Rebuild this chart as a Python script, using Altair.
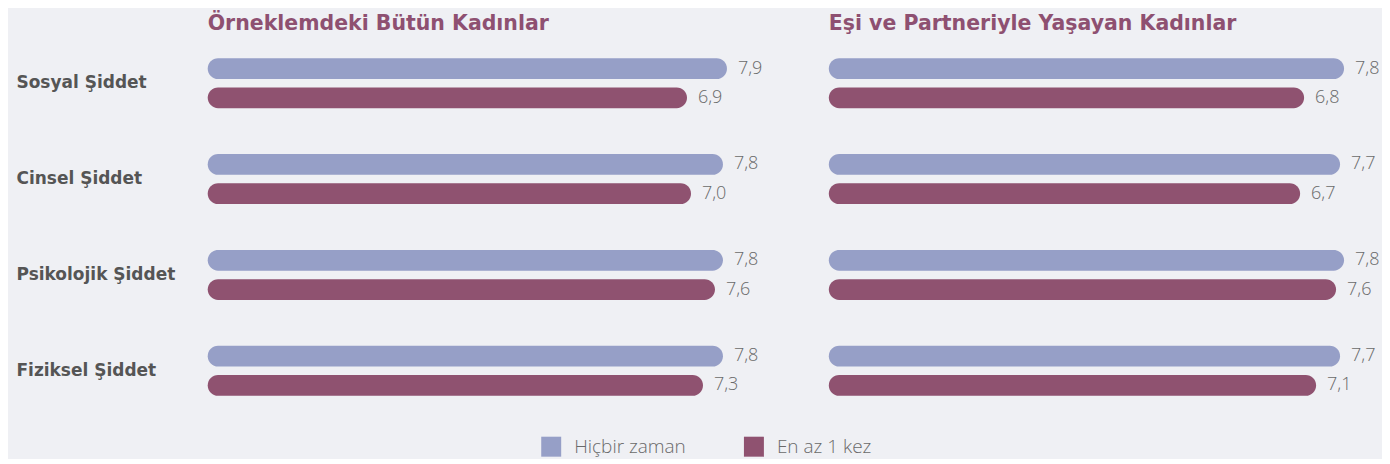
import altair as alt
import pandas as pd

panels = ["Örneklemdeki Bütün Kadınlar", "Eşi ve Partneriyle Yaşayan Kadınlar"]
categories = ["Sosyal Şiddet", "Cinsel Şiddet", "Psikolojik Şiddet", "Fiziksel Şiddet"]
series = ["Hiçbir zaman", "En az 1 kez"]

left_never = [7.9, 7.8, 7.8, 7.8]
left_once = [6.9, 7.0, 7.6, 7.3]
right_never = [7.8, 7.7, 7.8, 7.7]
right_once = [6.8, 6.7, 7.6, 7.1]

rows = []
for p, (nv, on) in zip(panels, [(left_never, left_once), (right_never, right_once)]):
    for c, a, b in zip(categories, nv, on):
        rows.append({"panel": p, "category": c, "series": series[0], "value": a})
        rows.append({"panel": p, "category": c, "series": series[1], "value": b})
df = pd.DataFrame(rows)

colors = ["#969FC7", "#8F5270"]
x_domain = [-5.1, 8.75]

base = alt.Chart().encode(
    y=alt.Y("category:N", sort=categories, title=None,
            scale=alt.Scale(paddingInner=0.479, paddingOuter=0.198),
            axis=alt.Axis(ticks=False, domain=False, labelAlign="left", labelPadding=192,
                          labelFont="DejaVu Sans", labelFontSize=17, labelFontWeight="bold",
                          labelColor="#555555", labelLimit=300)),
    yOffset=alt.YOffset("series:N", sort=series,
                        scale=alt.Scale(paddingInner=0.29, paddingOuter=0)),
)

xenc = alt.X("value:Q", scale=alt.Scale(domain=x_domain, zero=False, nice=False), axis=None)

bars = base.mark_bar(cornerRadiusEnd=10.5).encode(
    x=xenc,
    x2=alt.datum(x_domain[0]),
    color=alt.Color("series:N", sort=series, scale=alt.Scale(domain=series, range=colors),
                    legend=alt.Legend(title=None, orient="none", direction="horizontal",
                                      legendX=334, legendY=398, padding=0,
                                      symbolType="square",
                                      symbolSize=400, symbolStrokeWidth=0,
                                      labelFont="Open Sans", labelFontSize=19, labelFontWeight=300,
                                      labelColor="#6a6a6a", columnPadding=58,
                                      labelOffset=13)),
)

labels = base.mark_text(align="left", baseline="middle", dx=11, font="Open Sans", fontSize=18,
                        fontWeight=300, color="#6a6a6a").transform_calculate(
    lbl="replace(format(datum.value, '.1f'), '.', ',')"
).encode(
    x=xenc,
    text="lbl:N",
)

chart = alt.layer(bars, labels, data=df).properties(width=554, height=376).facet(
    column=alt.Column("panel:N", sort=panels, title=None,
                      header=alt.Header(labelAnchor="start", labelAlign="left",
                                        labelFont="DejaVu Sans", labelFontSize=20.5,
                                        labelFontWeight="bold", labelColor="#8E5071",
                                        labelPadding=5))
).properties(spacing=66, padding={"left": 8, "top": 5, "right": 0, "bottom": 2}).configure(
    background="#EFF0F4"
).configure_view(stroke=None)

chart.save("out.html", embed_options={"renderer": "svg", "actions": False})
